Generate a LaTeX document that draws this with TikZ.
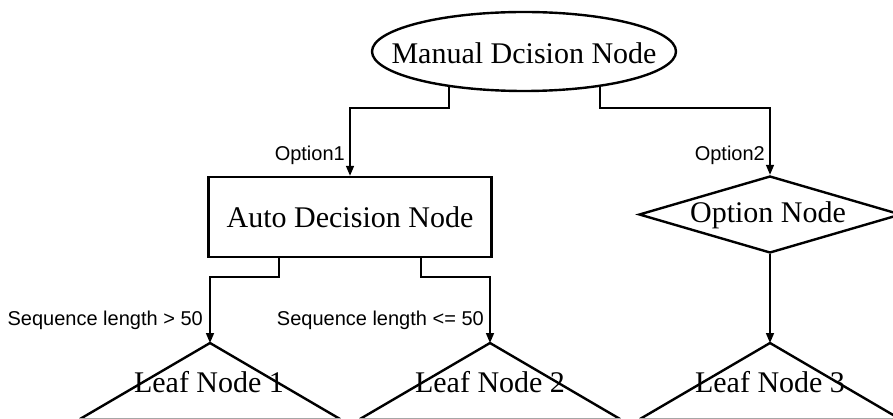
\documentclass[tikz,border=0pt]{standalone}
\usepackage{fontspec}
\setmainfont{Liberation Serif}
\newfontfamily\labelfont{Liberation Sans}
\usetikzlibrary{shapes.geometric,arrows.meta}
\begin{document}
\begin{tikzpicture}[x=1pt,y=-1pt,
  bigtext/.style={font=\fontsize{30}{34}\selectfont, inner sep=0pt},
  lbl/.style={font=\labelfont\fontsize{20}{22}\selectfont, inner sep=0pt, anchor=east},
  shapeline/.style={line width=2.4pt},
  conn/.style={line width=1.6pt, -{Triangle[length=10pt,width=8pt]}},
  basecol/.style={line width=2pt, draw=black!35}]
\useasboundingbox (0,0) rectangle (893,419);
\clip (0,0) rectangle (893,419);

% Manual decision node
\node[draw, shapeline, ellipse, minimum width=304, minimum height=79, inner sep=0] (mde) at (524,51.5) {};
\node[bigtext] (mdt) at (524,53) {Manual Dcision Node};

% Auto decision node
\node[draw, shapeline, minimum width=283, minimum height=80, inner sep=0, font=\fontsize{30}{34}\selectfont] (adn) at (350,217) {Auto Decision Node};

% Option node
\node[draw, shapeline, diamond, minimum width=262, minimum height=77, inner sep=0] (od) at (770,214.5) {};
\node[bigtext] (odt) at (768,215) {Option Node};

% Leaf triangles
\coordinate (a1) at (210,343);
\coordinate (a2) at (490,343);
\coordinate (a3) at (770,343);
\foreach \a in {a1,a2,a3}{
  \draw[shapeline] (\a) ++(-130,76) -- (\a) -- ++(130,76);
  \draw[basecol] (\a) ++(-130,76) -- ++(260,0);
}
\node[bigtext] (l1) at (209,382) {Leaf Node 1};
\node[bigtext] (l2) at (490,382) {Leaf Node 2};
\node[bigtext] (l3) at (770,382) {Leaf Node 3};

% Connectors
\coordinate (s1) at (449,86);
\coordinate (s2) at (600,86);
\draw[conn] (s1) -- (449,108) -| (adn.north);
\draw[conn] (s2) -- (600,108) -| (od.north);
\draw[conn] ([xshift=-71pt]adn.south) -- ++(0,19) -| (a1);
\draw[conn] ([xshift=71pt]adn.south) -- ++(0,19) -| (a2);
\draw[conn] (od.south) -- (a3);

% Labels
\node[lbl] (lo1) at (345,155) {Option1};
\node[lbl] (lo2) at (765,155) {Option2};
\node[lbl] (ls1) at (203,320) {Sequence length > 50};
\node[lbl] (ls2) at (484,320) {Sequence length <= 50};
\end{tikzpicture}
\end{document}
